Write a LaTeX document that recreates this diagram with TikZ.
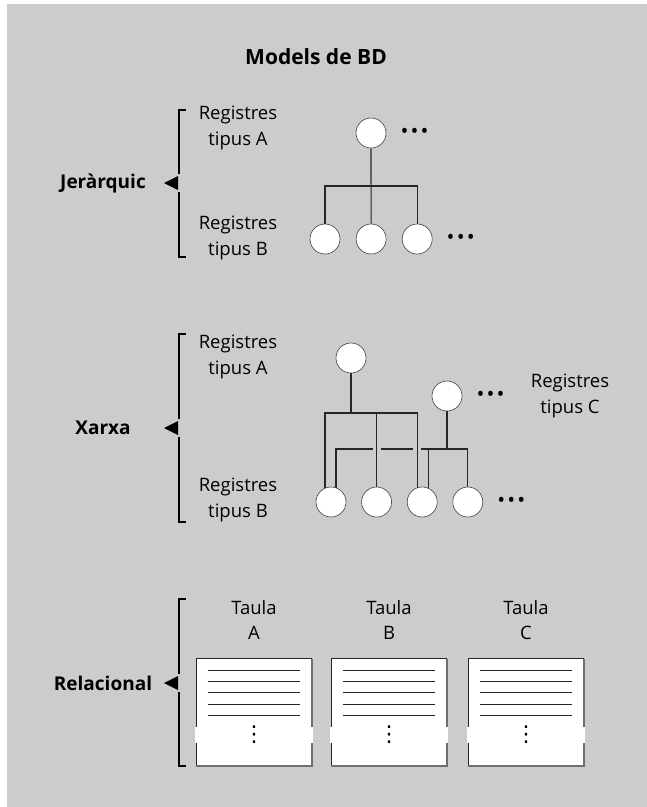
\documentclass[tikz,border=0pt]{standalone}
\usepackage{fontspec}
\setmainfont{Open Sans}
\newfontfamily\symfont{DejaVu Sans}
\usetikzlibrary{positioning, backgrounds, calc}
\definecolor{panel}{HTML}{CCCCCC}
\definecolor{rim}{HTML}{6E6E6E}

\begin{document}
\begin{tikzpicture}[
    x=1pt, y=-1pt,
    txt/.style={align=center, inner sep=0pt, font=\fontsize{18.5}{25.5}\selectfont},
    model/.style={inner sep=0pt, font=\fontsize{19}{22}\selectfont\bfseries},
    rec/.style={circle, draw=black!75, line width=0.6pt, fill=white, inner sep=0pt, minimum size=30pt},
    more/.style={inner sep=0pt, anchor=west, font=\fontsize{21}{21}\selectfont},
    link/.style={line width=1.1pt, draw=black!85},
    bracket/.style={line width=1.1pt},
    pointer/.style={fill=black},
    tablebox/.style={rectangle, fill=white, minimum width=115pt, minimum height=107pt, inner sep=0pt},
    vdot/.style={inner sep=0pt, font=\symfont\fontsize{22}{22}\selectfont}
]

\useasboundingbox (0,0) rectangle (647,807);
\begin{scope}[on background layer]
\fill[panel] (7,4) rectangle (647,807);
\end{scope}

\node[model, font=\fontsize{21}{24}\selectfont\bfseries] (title) at (316,57) {Models de BD};

% jerarquic
\node[model] (jer) at (103,183) {Jeràrquic};
\node[txt] (jerA) at (238,128) {Registres\\tipus A};
\node[txt] (jerB) at (238,238) {Registres\\tipus B};
\draw[bracket] (186,110) -| (179,174);
\draw[bracket] (179,192) |- (186,257);
\fill[pointer] (164,183) -- (178,176) -- (178,190) -- cycle;

\node[rec] (h0) at (371,133) {};
\node[rec] (h1) at (325,239) {};
\node[rec, right=15.5pt of h1] (h2) {};
\node[rec, right=15.5pt of h2] (h3) {};
\node[more, right=14pt of h0] (h0dots) {\textbullet\kern2.2pt\textbullet\kern2.2pt\textbullet};
\node[more, right=14pt of h3] (h3dots) {\textbullet\kern2.2pt\textbullet\kern2.2pt\textbullet};
\coordinate (hbar) at (371,186);

\begin{scope}[on background layer]
\draw[link] (h0) -- (h2);
\draw[link] (h1) |- (hbar) -| (h3);
\end{scope}

% xarxa
\node[model] (xar) at (103,428) {Xarxa};
\node[txt] (xarA) at (238,357) {Registres\\tipus A};
\node[txt] (xarB) at (238,500) {Registres\\tipus B};
\node[txt] (xarC) at (570,396) {Registres\\tipus C};
\draw[bracket] (186,334) -| (179,419);
\draw[bracket] (179,437) |- (186,522);
\fill[pointer] (164,428) -- (178,421) -- (178,435) -- cycle;

\node[rec] (na) at (351,358) {};
\node[rec] (nc) at (447,396) {};
\node[rec] (n1) at (331,502) {};
\node[rec, right=15pt of n1] (n2) {};
\node[rec, right=15pt of n2] (n3) {};
\node[rec, right=15pt of n3] (n4) {};
\node[more, right=14pt of nc] (ncdots) {\textbullet\kern2.2pt\textbullet\kern2.2pt\textbullet};
\node[more, right=14pt of n4] (n4dots) {\textbullet\kern2.2pt\textbullet\kern2.2pt\textbullet};

\begin{scope}[on background layer]
\draw[link] (na) -- ++(0,55) coordinate (abar);
\draw[link] ([xshift=-6pt]n1.center) |- (abar) -| ([xshift=-5pt]n3.center);
\draw[link] (n2) -- (n2 |- abar);
\draw[link] (nc) -- ++(0,53) coordinate (cbar);
\draw[link] ([xshift=5pt]n1.center) |- ([xshift=-4pt]n2.center |- cbar);
\draw[link] ([xshift=4pt]n2.center |- cbar) -- ([xshift=-9pt]n3.center |- cbar);
\draw[link] ([xshift=-1pt]n3.center |- cbar) -| (n4);
\draw[link] ([xshift=6pt]n3.center) -- ([xshift=6pt]n3.center |- cbar);
\end{scope}

% relacional
\node[model] (rel) at (103,683) {Relacional};
\draw[bracket] (186,599) -| (179,674);
\draw[bracket] (179,692) |- (186,766);
\fill[pointer] (164,683) -- (178,676) -- (178,690) -- cycle;

\foreach \t/\x in {A/254, B/389, C/526} {
  \node[tablebox] (t\t) at (\x,712.5) {};
  \node[txt] (name\t) at (\x,620) {Taula\\\t};
  \draw[line width=0.8pt, black!85] (t\t.south west) |- (t\t.north east);
  \draw[line width=1.6pt, rim] (t\t.north east) |- (t\t.south west);
  \foreach \k in {11.3,22.7,34,45.3,56.7}
    \draw[line width=1pt, black!85] ([xshift=12pt, yshift=-\k pt]t\t.north west) -- ([xshift=-12pt, yshift=-\k pt]t\t.north east);
  \fill[white] ([xshift=-1pt, yshift=-68pt]t\t.north west) rectangle ([xshift=1pt, yshift=-84pt]t\t.north east);
  \node[vdot] (dots\t) at ([yshift=-76pt]t\t.north) {⋮};
}

\end{tikzpicture}
\end{document}
